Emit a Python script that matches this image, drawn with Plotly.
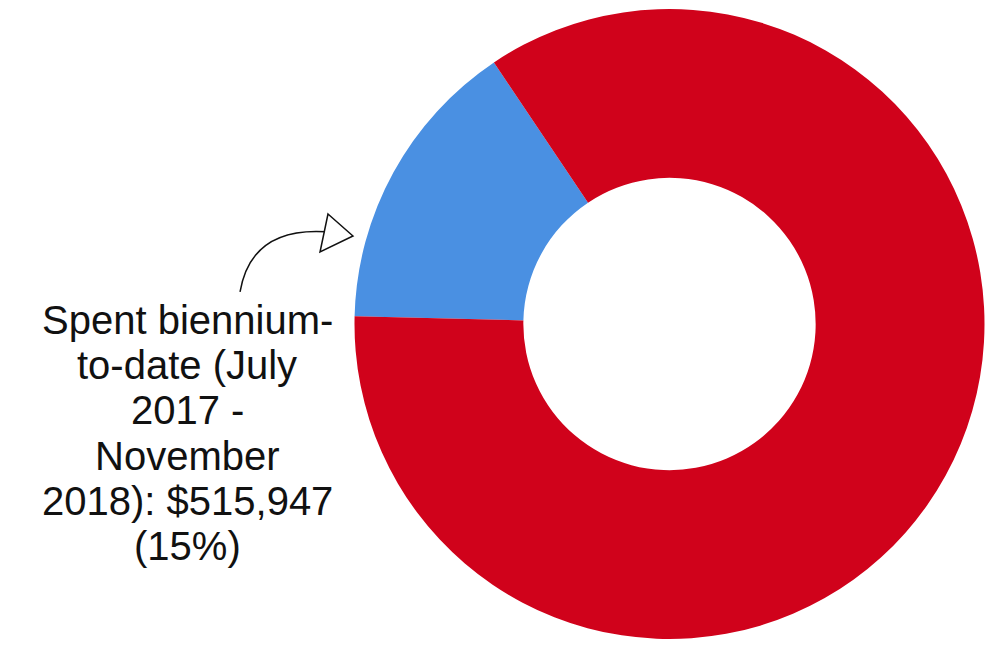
import plotly.graph_objects as go

labels = ["Spent biennium-to-date (July 2017 - November 2018)", "Remaining"]
values = [515947, 2878000]
colors = ["#4A90E2", "#D0021B"]
label_lines = ["Spent biennium-", "to-date (July", "2017 -", "November",
               "2018): $515,947", "(15%)"]

W, H = 995, 645
OFF = 8  # page body margin offset

def px(x):
    return (x - OFF) / W

def py(y):
    return 1 - (y - OFF) / H

fig = go.Figure(go.Pie(
    labels=labels,
    values=values,
    hole=0.464,
    sort=False,
    direction="counterclockwise",
    rotation=-88.6,
    marker=dict(colors=colors, line=dict(width=0)),
    textinfo="none",
    hoverinfo="label+value+percent",
    domain=dict(x=[px(354.5), px(984.5)], y=[py(639), py(9)]),
    showlegend=False,
))

# curved arrow (decorative)
curve = "M {:.4f},{:.4f} Q {:.4f},{:.4f} {:.4f},{:.4f}".format(
    px(240), py(292), px(252), py(222), px(338), py(233))
head = "M {:.4f},{:.4f} L {:.4f},{:.4f} L {:.4f},{:.4f} Z".format(
    px(328), py(214), px(353), py(236), px(320), py(252))

annotations = []
line_gap = 45.2
for i, line in enumerate(label_lines):
    annotations.append(dict(
        text=line, x=px(187), y=py(320 + i * line_gap), xref="paper", yref="paper",
        xanchor="center", yanchor="middle", showarrow=False, align="center",
        font=dict(size=40, family="Liberation Sans, Arial, sans-serif", color="#111111"),
    ))

fig.update_layout(
    width=W, height=H,
    margin=dict(l=0, r=0, t=0, b=0),
    paper_bgcolor="white",
    plot_bgcolor="white",
    font=dict(family="Liberation Sans, Arial, sans-serif", color="#111111"),
    shapes=[
        dict(type="path", path=curve, xref="paper", yref="paper",
             line=dict(color="#111111", width=1.5)),
        dict(type="path", path=head, xref="paper", yref="paper",
             line=dict(color="#111111", width=1.5), fillcolor="white"),
    ],
    annotations=annotations,
)

fig.write_html("out.html")
